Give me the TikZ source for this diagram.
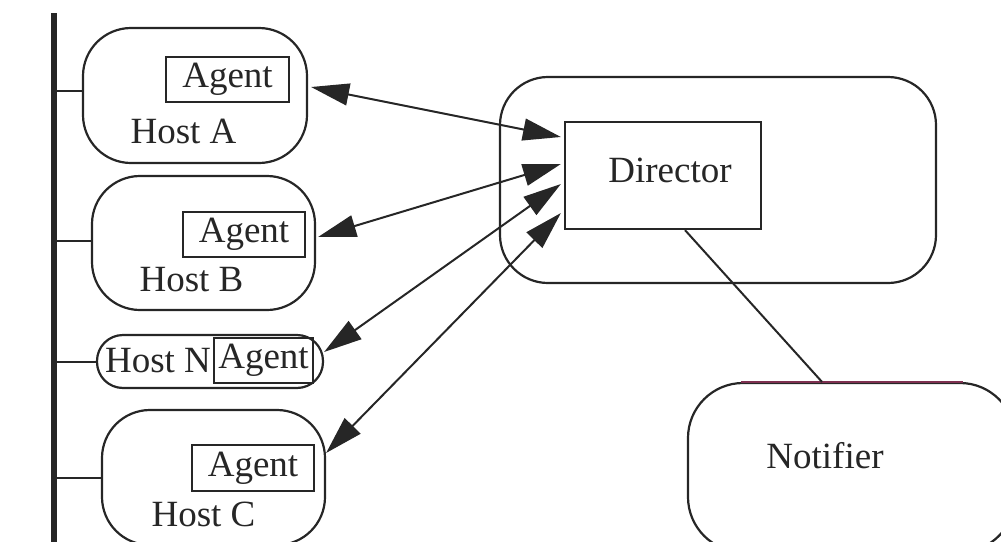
\documentclass[tikz,border=0pt]{standalone}
\usepackage{fontspec}
\setmainfont{Liberation Serif}
\usetikzlibrary{arrows.meta,calc}
\definecolor{ink}{HTML}{262626}
\definecolor{edgered}{HTML}{7E3050}
\tikzset{
  txt/.style={font=\fontsize{37}{40}\selectfont, text=ink, inner sep=0pt},
  hostshape/.style={draw=ink, line width=2.2pt, rounded corners=48pt, inner sep=0pt},
  agentbox/.style={draw=ink, line width=2.4pt, inner sep=0pt, minimum height=45pt},
  link/.style={draw=ink, line width=2pt},
  biarrow/.style={draw=ink, line width=2pt,
    {Triangle[length=38pt,width=22pt]}-{Triangle[length=38pt,width=22pt]}},
}
\begin{document}
\begin{tikzpicture}[x=1pt,y=-1pt]
\useasboundingbox (0,0) rectangle (1001,541);
\clip (0,0) rectangle (1001,541);

% network bus
\coordinate (busTop) at (54,13);
\coordinate (busBot) at (54,545);
\draw[ink, line width=6pt] (busTop) -- (busBot);

% hosts
\node[hostshape, minimum width=224pt, minimum height=135pt] (hostA) at (195,95.5) {};
\node[hostshape, minimum width=223pt, minimum height=134pt] (hostB) at (203.5,243) {};
\node[hostshape, rounded corners=26pt, minimum width=226pt, minimum height=53pt] (hostN) at (210,361.5) {};
\node[hostshape, minimum width=223pt, minimum height=135pt] (hostC) at (213.5,477.5) {};

% agents
\node[agentbox, minimum width=123pt] (agentA) at (227.5,79.5) {};
\node[txt] (agentAt) at (agentA) {Agent};
\node[agentbox, minimum width=122pt] (agentB) at (244,234.5) {};
\node[txt] (agentBt) at (agentB) {Agent};
\node[agentbox, minimum width=99pt] (agentN) at (263.5,360.5) {};
\node[txt] (agentNt) at (agentN) {Agent};
\node[agentbox, minimum width=122pt, minimum height=46pt] (agentC) at (253,468) {};
\node[txt] (agentCt) at (agentC) {Agent};

% host labels
\node[txt] (labA) at (183.5,131) {Host A};
\node[txt] (labB) at (191.5,279.5) {Host B};
\node[txt] (labN) at (158,361) {Host N};
\node[txt] (labC) at (203.5,514.5) {Host C};

% links from hosts to the bus
\draw[link] ([yshift=4.5pt]hostA.west) -- ([yshift=4.5pt]hostA.west -| busTop);
\draw[link] ([yshift=2pt]hostB.west) -- ([yshift=2pt]hostB.west -| busTop);
\draw[link] (hostN.west) -- (hostN.west -| busTop);
\draw[link] (hostC.west) -- (hostC.west -| busTop);

% director
\node[hostshape, minimum width=436pt, minimum height=206pt] (dirOuter) at (718,180) {};
\node[draw=ink, line width=2.2pt, inner sep=0pt, minimum width=196pt, minimum height=107pt] (dirbox) at (663,175.5) {};
\node[txt] (dirlab) at (670,170) {Director};

% notifier
\node[hostshape, rounded corners=55pt, minimum width=327pt, minimum height=169pt] (notifier) at (851.5,467.5) {};
\draw[edgered, line width=2.2pt] ([xshift=-111pt]notifier.north) -- ([xshift=111pt]notifier.north);
\node[txt] (notlab) at (825,455.5) {Notifier};

% connections
\draw[biarrow] ([xshift=3pt,yshift=8.5pt]hostA.east) -- ([xshift=-3pt,yshift=38.5pt]dirbox.west);
\draw[biarrow] ([xshift=2pt,yshift=6pt]hostB.east) -- ([xshift=-3pt,yshift=11.5pt]dirbox.west);
\draw[biarrow] ([yshift=9.5pt]hostN.east) -- ([xshift=-3pt,yshift=-8.5pt]dirbox.west);
\draw[biarrow] ([yshift=24.5pt]hostC.east) -- ([xshift=-3pt,yshift=-37.5pt]dirbox.west);
\draw[link] ([xshift=22pt]dirbox.south) -- ([xshift=-29.5pt]notifier.north);
\end{tikzpicture}
\end{document}
